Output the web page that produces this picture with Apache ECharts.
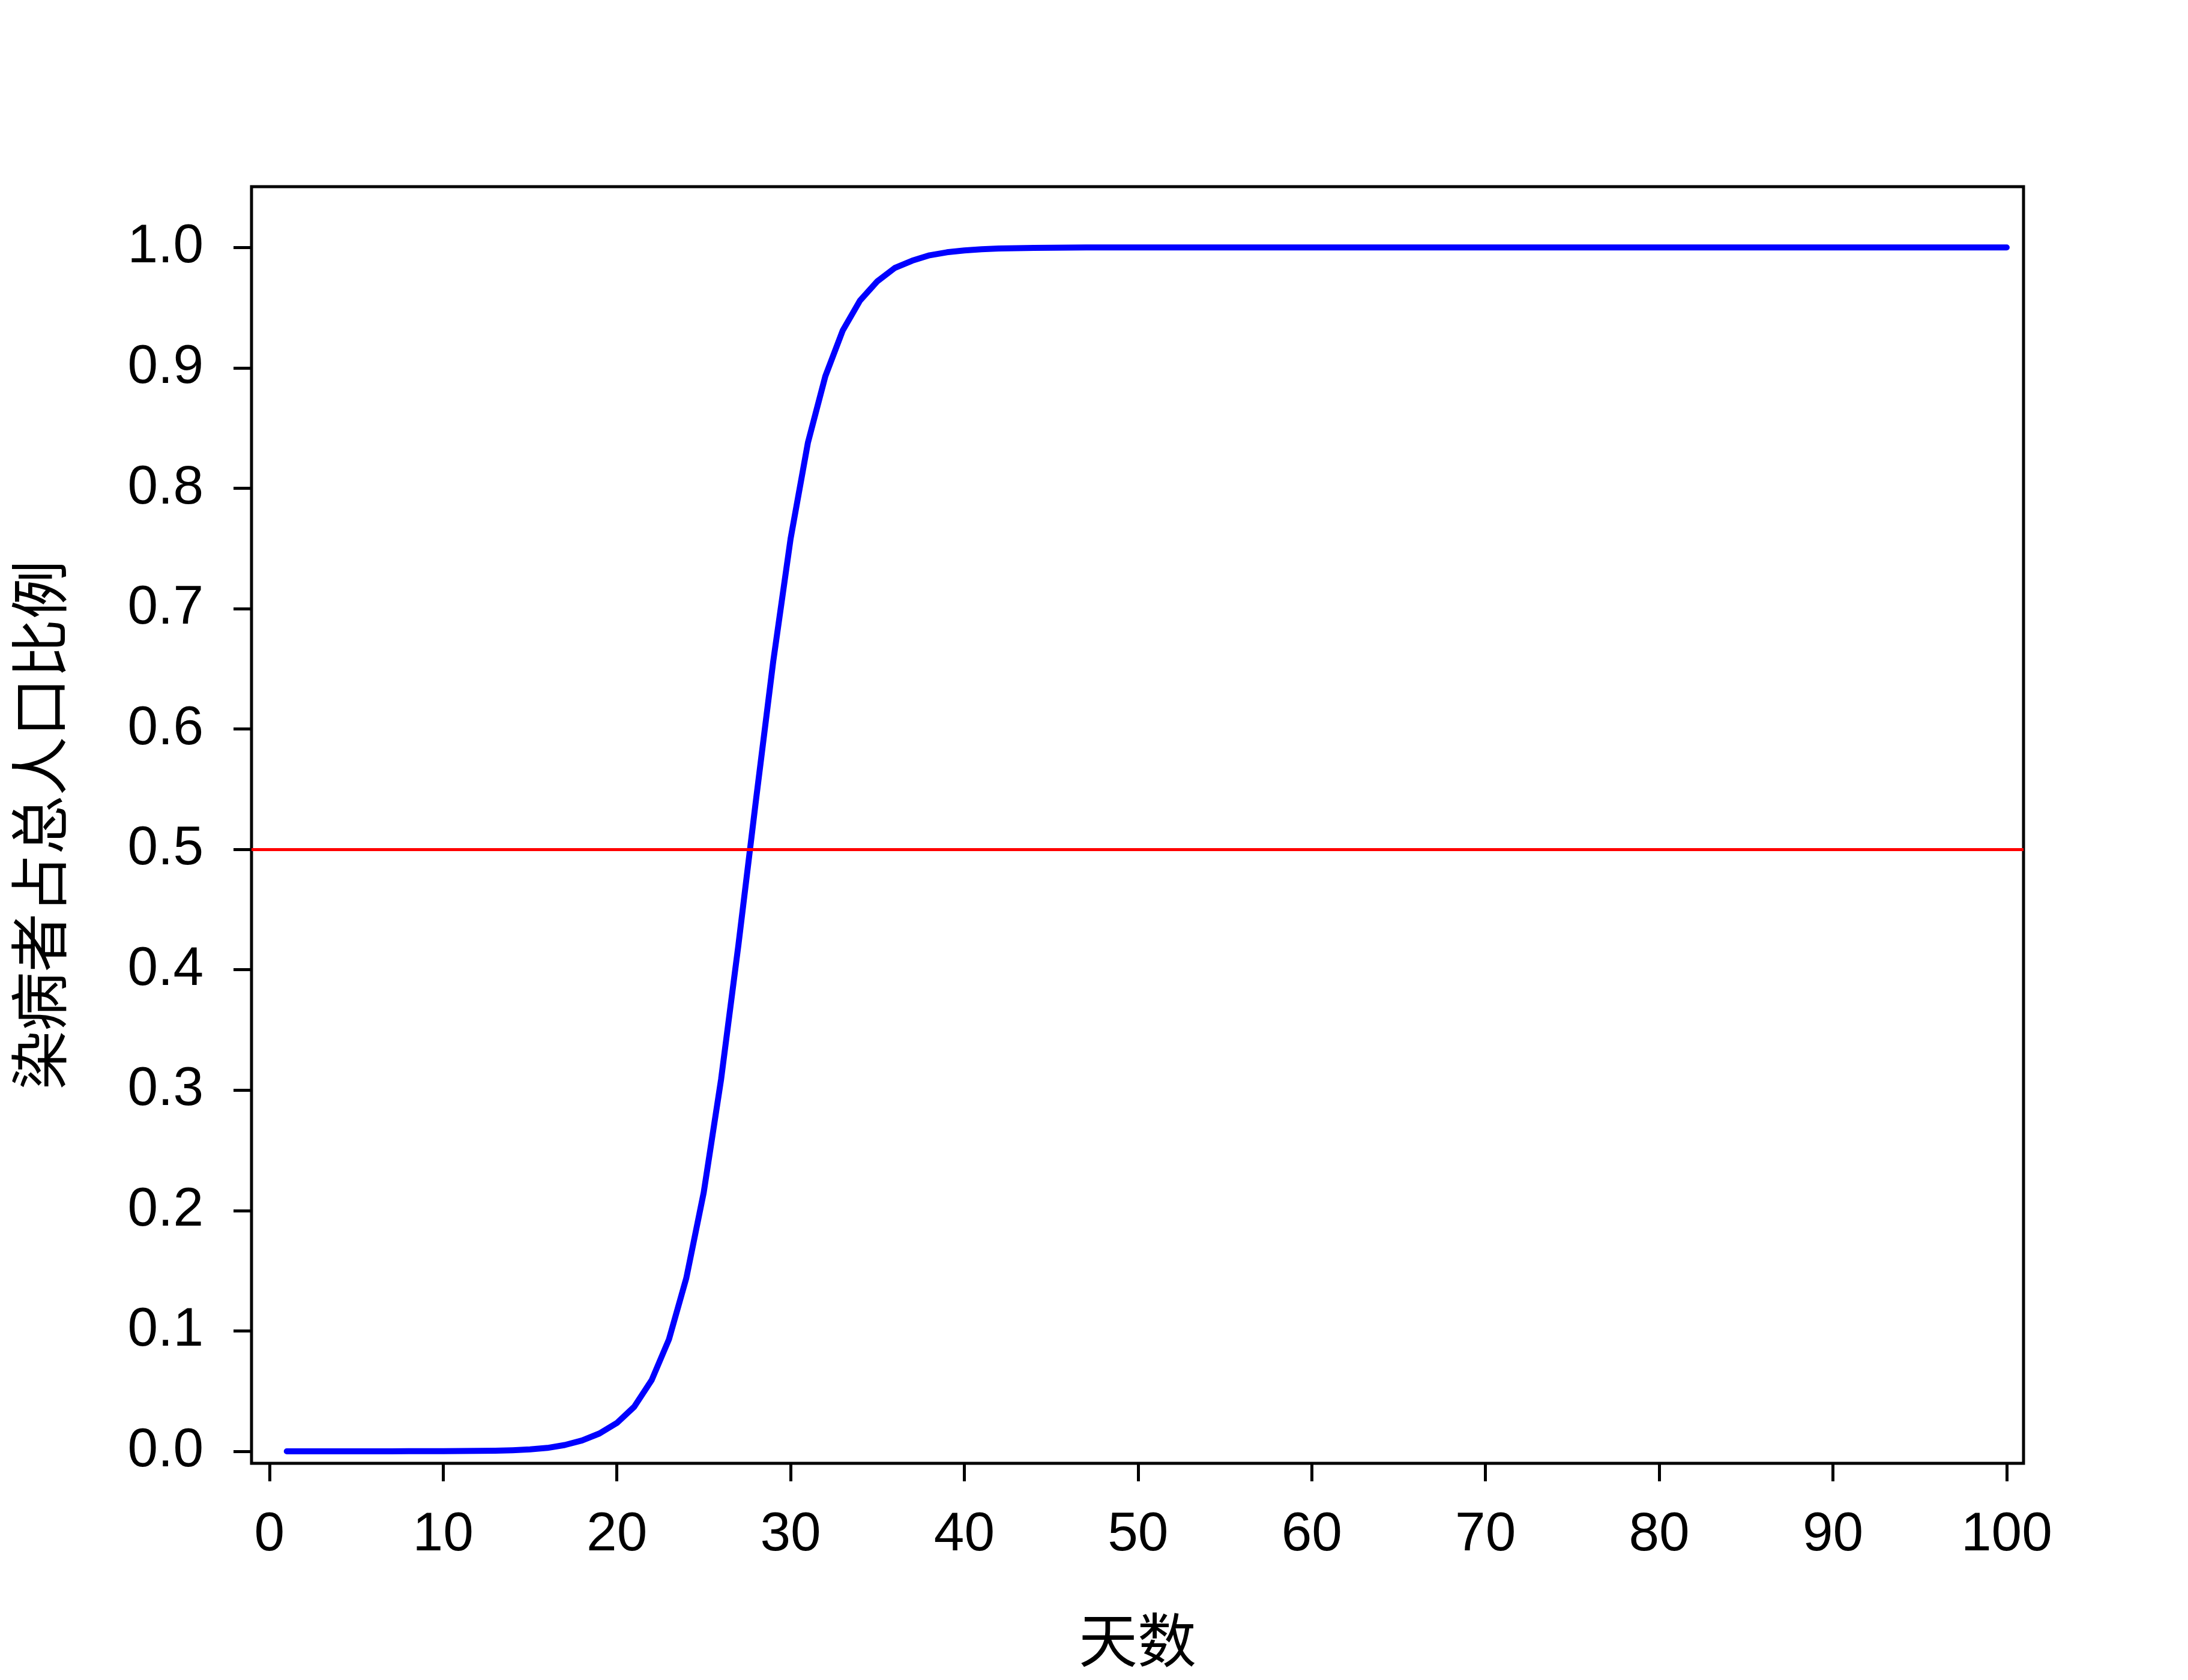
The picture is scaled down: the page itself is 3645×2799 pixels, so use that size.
<!DOCTYPE html>
<html>
<head>
<meta charset="utf-8">
<script src="https://cdn.jsdelivr.net/npm/echarts@6/dist/echarts.min.js"></script>
<style>
html,body{margin:0;padding:0;background:#fff;}
#chart{width:3645px;height:2799px;}
</style>
</head>
<body>
<div id="chart"></div>
<script>
// Proportion of infected population by day (days 1..100)
const infectedShare = [
  0.00001, 0.00001, 0.00001, 0.00001, 0.00001, 0.00002, 0.00002, 0.00004, 0.00006, 0.0001,
  0.00018, 0.0003, 0.0005, 0.0009, 0.0016, 0.0028, 0.0052, 0.009, 0.0148, 0.0235,
  0.037, 0.059, 0.093, 0.144, 0.215, 0.309, 0.421, 0.540, 0.656, 0.758,
  0.838, 0.893, 0.931, 0.956, 0.972, 0.983, 0.989, 0.9935, 0.996, 0.9975,
  0.9985, 0.9991, 0.9994, 0.9996, 0.9998, 0.9999, 1, 1, 1, 1,
  1, 1, 1, 1, 1, 1, 1, 1, 1, 1,
  1, 1, 1, 1, 1, 1, 1, 1, 1, 1,
  1, 1, 1, 1, 1, 1, 1, 1, 1, 1,
  1, 1, 1, 1, 1, 1, 1, 1, 1, 1,
  1, 1, 1, 1, 1, 1, 1, 1, 1, 1
];
const firstDay = 1;
const xTicks = [0, 10, 20, 30, 40, 50, 60, 70, 80, 90, 100];
const yTicks = [0, 0.1, 0.2, 0.3, 0.4, 0.5, 0.6, 0.7, 0.8, 0.9, 1.0];
const thresholdLine = 0.5;
const xTitle = '天数';
const yTitle = '染病者占总人口比例';

const seriesData = infectedShare.map((v, i) => [firstDay + i, v]);

const chart = echarts.init(document.getElementById('chart'), null, {renderer: 'canvas'});
const tickFont = {fontFamily: '"Liberation Sans", Arial, sans-serif', fontSize: 91, color: '#000'};
const nameFont = {fontFamily: '"Noto Sans CJK SC", sans-serif', fontSize: 98, color: '#000', fontWeight: 'normal'};

chart.setOption({
  animation: false,
  backgroundColor: '#ffffff',
  grid: {
    left: 419, right: 274, top: 311, bottom: 361,
    show: true, borderColor: '#000', borderWidth: 5, backgroundColor: 'transparent',
    containLabel: false
  },
  xAxis: {
    type: 'value', min: -1.03, max: 100.97,
    name: xTitle, nameLocation: 'middle', nameGap: 245,
    nameTextStyle: nameFont,
    axisLine: {show: false, onZero: false},
    splitLine: {show: false},
    axisTick: {show: true, customValues: xTicks, length: 30, lineStyle: {color: '#000', width: 5}},
    axisLabel: {customValues: xTicks, margin: 74, ...tickFont}
  },
  yAxis: {
    type: 'value', min: -0.01, max: 1.0505,
    name: yTitle, nameLocation: 'middle', nameGap: 305, nameRotate: 90,
    nameTextStyle: nameFont,
    axisLine: {show: false, onZero: false},
    splitLine: {show: false},
    axisTick: {show: true, customValues: yTicks, length: 30, lineStyle: {color: '#000', width: 5}},
    axisLabel: {customValues: yTicks, margin: 80, formatter: v => v.toFixed(1), ...tickFont}
  },
  series: [{
    type: 'line',
    data: seriesData,
    showSymbol: false,
    symbol: 'none',
    lineStyle: {color: '#0000ff', width: 10, cap: 'round', join: 'round'},
    z: 2,
    markLine: {
      silent: true,
      symbol: ['none', 'none'],
      label: {show: false},
      lineStyle: {color: '#ff0000', width: 5, type: 'solid'},
      data: [{yAxis: thresholdLine}]
    }
  }]
});
</script>
</body>
</html>
